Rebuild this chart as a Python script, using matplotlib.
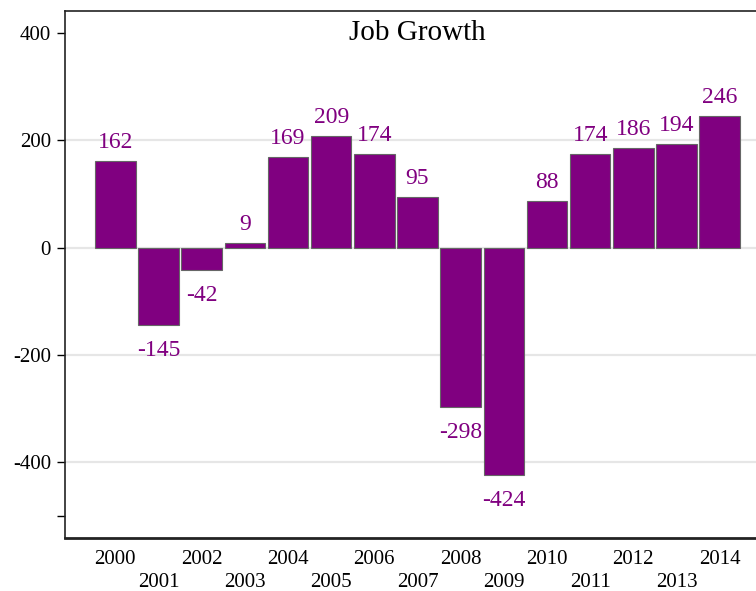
import matplotlib
matplotlib.use("Agg")
import matplotlib.pyplot as plt
from matplotlib.transforms import offset_copy

years = [2000, 2001, 2002, 2003, 2004, 2005, 2006, 2007, 2008, 2009, 2010, 2011, 2012, 2013, 2014]
values = [162, -145, -42, 9, 169, 209, 174, 95, -298, -424, 88, 174, 186, 194, 246]
yticks = [-500, -400, -200, 0, 200, 400]
ytick_labels = ["", "-400", "-200", "0", "200", "400"]
grid_vals = [-400, -200, 0, 200]
title = "Job Growth"

plt.rcParams['font.family'] = ['Liberation Serif', 'DejaVu Serif']
purple = "#800080"

fig = plt.figure(figsize=(7.56, 5.91), dpi=100)
W, H = 756, 591
ax = fig.add_axes([65 / W, (H - 538) / H, (770 - 65) / W, (538 - 11) / H])

for g in grid_vals:
    ax.axhline(g, color="#e6e6e6", lw=1.6, zorder=0)

ax.bar(years, values, width=0.94, color=purple, edgecolor="#666666", linewidth=0.8, zorder=2)

up = offset_copy(ax.transData, fig=fig, x=0, y=8, units='dots')
down = offset_copy(ax.transData, fig=fig, x=0, y=-15, units='dots')
for yr, v in zip(years, values):
    if v >= 0:
        ax.text(yr, v, str(v), transform=up, ha='center', va='bottom', color=purple, fontsize=17)
    else:
        ax.text(yr, v, str(v), transform=down, ha='center', va='top', color=purple, fontsize=17)

ax.set_xlim(1998.835, 2015.165)
ax.set_ylim(-541.6, 441.6)

ax.set_yticks(yticks)
ax.set_yticklabels(ytick_labels)
ax.tick_params(axis='y', length=6, width=1.0, pad=4, labelsize=15, direction='out')

ax.set_xticks(years)
ax.set_xticklabels([str(y) for y in years])
ax.tick_params(axis='x', length=0, labelsize=15)
for i, t in enumerate(ax.xaxis.get_major_ticks()):
    t.set_pad(8.5 if i % 2 == 0 else 25)

ax.spines['right'].set_visible(False)
ax.spines['top'].set_linewidth(1.2)
ax.spines['left'].set_linewidth(1.2)
ax.spines['bottom'].set_linewidth(2.0)
for s in ['top', 'left', 'bottom']:
    ax.spines[s].set_color("#222222")

ax.text(0.5, (538 - 40) / 527, title, transform=ax.transAxes, ha='center', va='baseline', fontsize=21)

fig.savefig("out.png", dpi=100)
